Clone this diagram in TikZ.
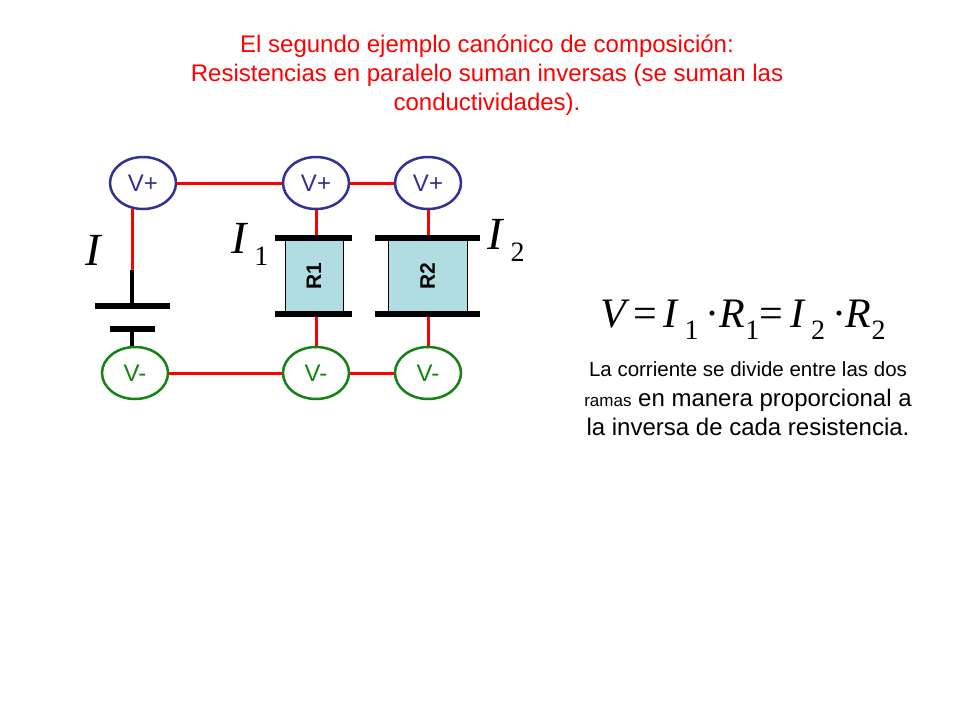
\documentclass[tikz,border=0pt]{standalone}
\usepackage{fontspec}
\setmainfont{Liberation Sans}
\newfontfamily\serif{Liberation Serif}
\usetikzlibrary{shapes.geometric}
\newcommand\sbs[1]{\raisebox{-12pt}{\fontsize{28}{28}\selectfont\upshape #1}}
\begin{document}
\begin{tikzpicture}[x=1pt,y=-1pt,
 vp/.style={ellipse,draw={rgb,255:red,50;green,50;blue,150},line width=2.5pt,minimum width=66pt,minimum height=52pt,inner sep=0pt,text={rgb,255:red,50;green,50;blue,150},font=\fontsize{24}{24}\selectfont},
 vm/.style={ellipse,draw={rgb,255:red,20;green,130;blue,20},line width=2.5pt,minimum width=66pt,minimum height=52pt,inner sep=0pt,text={rgb,255:red,20;green,130;blue,20},font=\fontsize{24}{24}\selectfont},
 wire/.style={red,line width=3pt},
 blk/.style={black,line width=5.5pt},
 res/.style={draw=black,fill={rgb,255:red,176;green,220;blue,226},line width=1pt,inner sep=0pt,font=\bfseries\fontsize{21}{21}\selectfont},
 mth/.style={font=\serif\fontsize{46}{46}\selectfont}]
\useasboundingbox (0,0) rectangle (960,720);
\node[red,align=center,font=\fontsize{24}{29}\selectfont] (t) at (487,75) {El segundo ejemplo canónico de composición:\\Resistencias en paralelo suman inversas (se suman las\\conductividades).};
\node[vp] (p1) at (143,183) {V+};
\node[vp] (p2) at (316,183) {V+};
\node[vp] (p3) at (428,183) {V+};
\node[vm] (m1) at (135,373) {V-};
\node[vm] (m2) at (316,373) {V-};
\node[vm] (m3) at (428,373) {V-};
\node[res,minimum width=58pt,minimum height=76pt] (r1) at (314,276) {\rotatebox{90}{R1}};
\node[res,minimum width=79pt,minimum height=76pt] (r2) at (427.5,276) {\rotatebox{90}{R2}};
\coordinate (b1) at (132,270);
\coordinate (b2) at (132,306);
\coordinate (b3) at (132,329);
\draw[wire] (p1.east) -- (p2.west);
\draw[wire] (p2.east) -- (p3.west);
\draw[wire] (m1.east) -- (m2.west);
\draw[wire] (m2.east) -- (m3.west);
\draw[wire] (p2.south) -- (316,238);
\draw[wire] (p3.south) -- (428,238);
\draw[wire] (316,314) -- (m2.north);
\draw[wire] (428,314) -- (m3.north);
\draw[wire] (132,209) -- (b1);
\draw[blk,line width=4.5pt] (b1) -- (b2);
\draw[blk,line width=4.5pt] (b3) -- (m1.north-|b3);
\draw[blk] (95,306) -- (170,306);
\draw[blk] (110,329) -- (155,329);
\draw[blk] (275,238) -- (352,238);
\draw[blk] (275,314) -- (352,314);
\draw[blk] (375,238) -- (480,238);
\draw[blk] (375,314) -- (480,314);
\node[mth] (lI) at (93,250) {\itshape I};
\node[mth] (lI1) at (250,244) {\itshape I\,\sbs{1}};
\node[mth] (lI2) at (506,240) {\itshape I\,\sbs{2}};
\node[font=\serif\fontsize{42}{42}\selectfont] (eq) at (743,320) {\itshape V\upshape\,=\,\itshape I\,\sbs{1}\,\upshape·\itshape R\sbs{1}\upshape=\,\itshape I\,\sbs{2}\,\upshape·\itshape R\sbs{2}};
\node[align=center,font=\fontsize{24}{29.5}\selectfont] (tx) at (748,399) {{\fontsize{20.5}{29.5}\selectfont La corriente se divide entre las dos}\\{\fontsize{17}{29.5}\selectfont ramas} en manera proporcional a\\la inversa de cada resistencia.};
\end{tikzpicture}
\end{document}
